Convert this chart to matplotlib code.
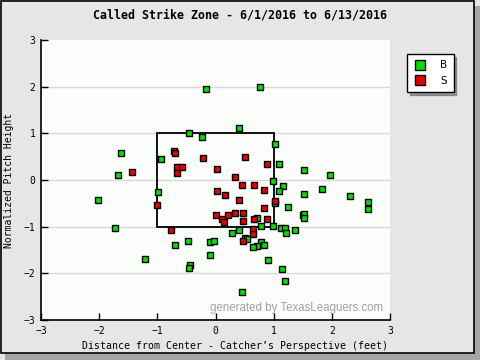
import matplotlib
matplotlib.use("Agg")
import matplotlib.pyplot as plt
from matplotlib.patches import Rectangle
from matplotlib.lines import Line2D

# pitch locations (feet)
ball_x = [-0.16, 0.76, -0.45, -0.24, 0.41, -1.62, -0.93, -1.67, 1.03, 1.09,
          1.53, 1.97, 0.98, 1.16, 1.83, 1.10, 1.53, 2.31, 1.03, 2.63,
          2.63, 1.24, -0.98, -2.02, 0.71, 1.50, 1.53, 1.52, 0.98, 0.79,
          1.12, 1.19, 1.21, 1.36, 0.28, 0.40, -1.72, -0.47, -0.69, -0.10,
          -0.03, 0.50, 0.55, 0.79, 0.83, 0.71, 0.64, -0.10, -1.21, -0.43,
          -0.45, 0.91, 1.14, 1.19, 0.45]
ball_y = [1.95, 2.00, 1.01, 0.92, 1.12, 0.58, 0.45, 0.11, 0.77, 0.34,
          0.21, 0.11, -0.02, -0.13, -0.19, -0.24, -0.30, -0.34, -0.49, -0.47,
          -0.62, -0.58, -0.26, -0.43, -0.82, -0.75, -0.73, -0.82, -0.99, -0.99,
          -1.03, -1.03, -1.14, -1.07, -1.14, -1.07, -1.03, -1.31, -1.39, -1.33,
          -1.31, -1.24, -1.27, -1.33, -1.39, -1.42, -1.44, -1.61, -1.70, -1.82,
          -1.89, -1.72, -1.91, -2.17, -2.40]

strike_x = [-0.71, -0.69, -0.22, -1.43, -0.67, -0.57, -0.66, 0.02, 0.50, 0.88,
            0.34, 0.45, 0.66, 0.84, 0.02, 0.17, -1.00, 0.40, 1.03, 0.84,
            0.00, 0.22, 0.34, 0.48, 0.12, 0.14, 0.48, 0.66, 0.88, -0.76,
            0.64, 0.64, 0.47]
strike_y = [0.62, 0.58, 0.47, 0.17, 0.28, 0.28, 0.15, 0.24, 0.49, 0.34,
            0.06, -0.11, -0.11, -0.21, -0.24, -0.32, -0.54, -0.43, -0.45, -0.60,
            -0.75, -0.75, -0.71, -0.71, -0.84, -0.90, -0.88, -0.84, -0.84, -1.07,
            -1.05, -1.16, -1.31]

ticks = [-3, -2, -1, 0, 1, 2, 3]
grid_y = [-2, -1, 0, 1, 2]

mono = "DejaVu Sans Mono"

fig = plt.figure(figsize=(4.8, 3.6), dpi=100, facecolor="#e6e6e6")

# outer frame with drop shadow
fig.patches.append(Rectangle((5 / 480, 0), 475 / 480, 354 / 360, transform=fig.transFigure,
                             facecolor="#a4a4a4", edgecolor="none", zorder=-3))
fig.patches.append(Rectangle((1 / 480, 7 / 360), 473 / 480, 352 / 360, transform=fig.transFigure,
                             facecolor="#e6e6e6", edgecolor="black", linewidth=1.2, zorder=-2))

ax = fig.add_axes([41 / 480, 40 / 360, 349 / 480, 280 / 360])
ax.set_facecolor("#fcfefc")
ax.set_xlim(-3, 3)
ax.set_ylim(-3, 3)

for g in grid_y:
    ax.axhline(g, color="#d8d8d8", linewidth=1, zorder=1)

ax.add_patch(Rectangle((-1, -1), 2, 2, fill=False, edgecolor="black", linewidth=1.3, zorder=2))

ax.plot(ball_x, ball_y, linestyle="none", marker="s", markersize=4.7,
        markerfacecolor="#00e000", markeredgecolor="black", markeredgewidth=1, zorder=3)
ax.plot(strike_x, strike_y, linestyle="none", marker="s", markersize=4.7,
        markerfacecolor="#e80000", markeredgecolor="black", markeredgewidth=1, zorder=3)

for side in ["top", "right"]:
    ax.spines[side].set_visible(False)
for side in ["left", "bottom"]:
    ax.spines[side].set_linewidth(1.2)

ax.set_xticks(ticks)
ax.set_yticks(ticks)
ax.tick_params(direction="in", length=5, width=1, labelsize=7, pad=4)
for lbl in ax.get_xticklabels() + ax.get_yticklabels():
    lbl.set_family(mono)

ax.set_xlabel("Distance from Center - Catcher\u2019s Perspective (feet)", family=mono, fontsize=7.1)
ax.xaxis.set_label_coords(0.556, -0.075)
ax.set_ylabel("Normalized Pitch Height", family=mono, fontsize=7)
ax.yaxis.set_label_coords(-0.078, 0.5)

ax.text(0.98, 0.02, "generated by TexasLeaguers.com", transform=ax.transAxes,
        ha="right", va="bottom", fontsize=8.3, color="#a0a0a0", family="Liberation Sans")

fig.text(0.5, 0.958, "Called Strike Zone - 6/1/2016 to 6/13/2016", ha="center", va="center",
         family=mono, fontsize=8.4, fontweight="bold")

handles = [
    Line2D([], [], linestyle="none", marker="s", markersize=7, markerfacecolor="#00e000",
           markeredgecolor="black", markeredgewidth=1, label="B"),
    Line2D([], [], linestyle="none", marker="s", markersize=7, markerfacecolor="#e80000",
           markeredgecolor="black", markeredgewidth=1, label="S"),
]
leg = fig.legend(handles=handles, loc="upper left", bbox_to_anchor=(407 / 480, 1 - 54 / 360),
                 borderaxespad=0, frameon=True, fancybox=False, shadow=True, edgecolor="black",
                 framealpha=1, prop={"family": "DejaVu Sans", "size": 7.5},
                 handletextpad=1.3, borderpad=0.6, labelspacing=0.55, handlelength=1.3)
leg.get_frame().set_linewidth(1)

fig.savefig("out.png", dpi=100, facecolor=fig.get_facecolor())
